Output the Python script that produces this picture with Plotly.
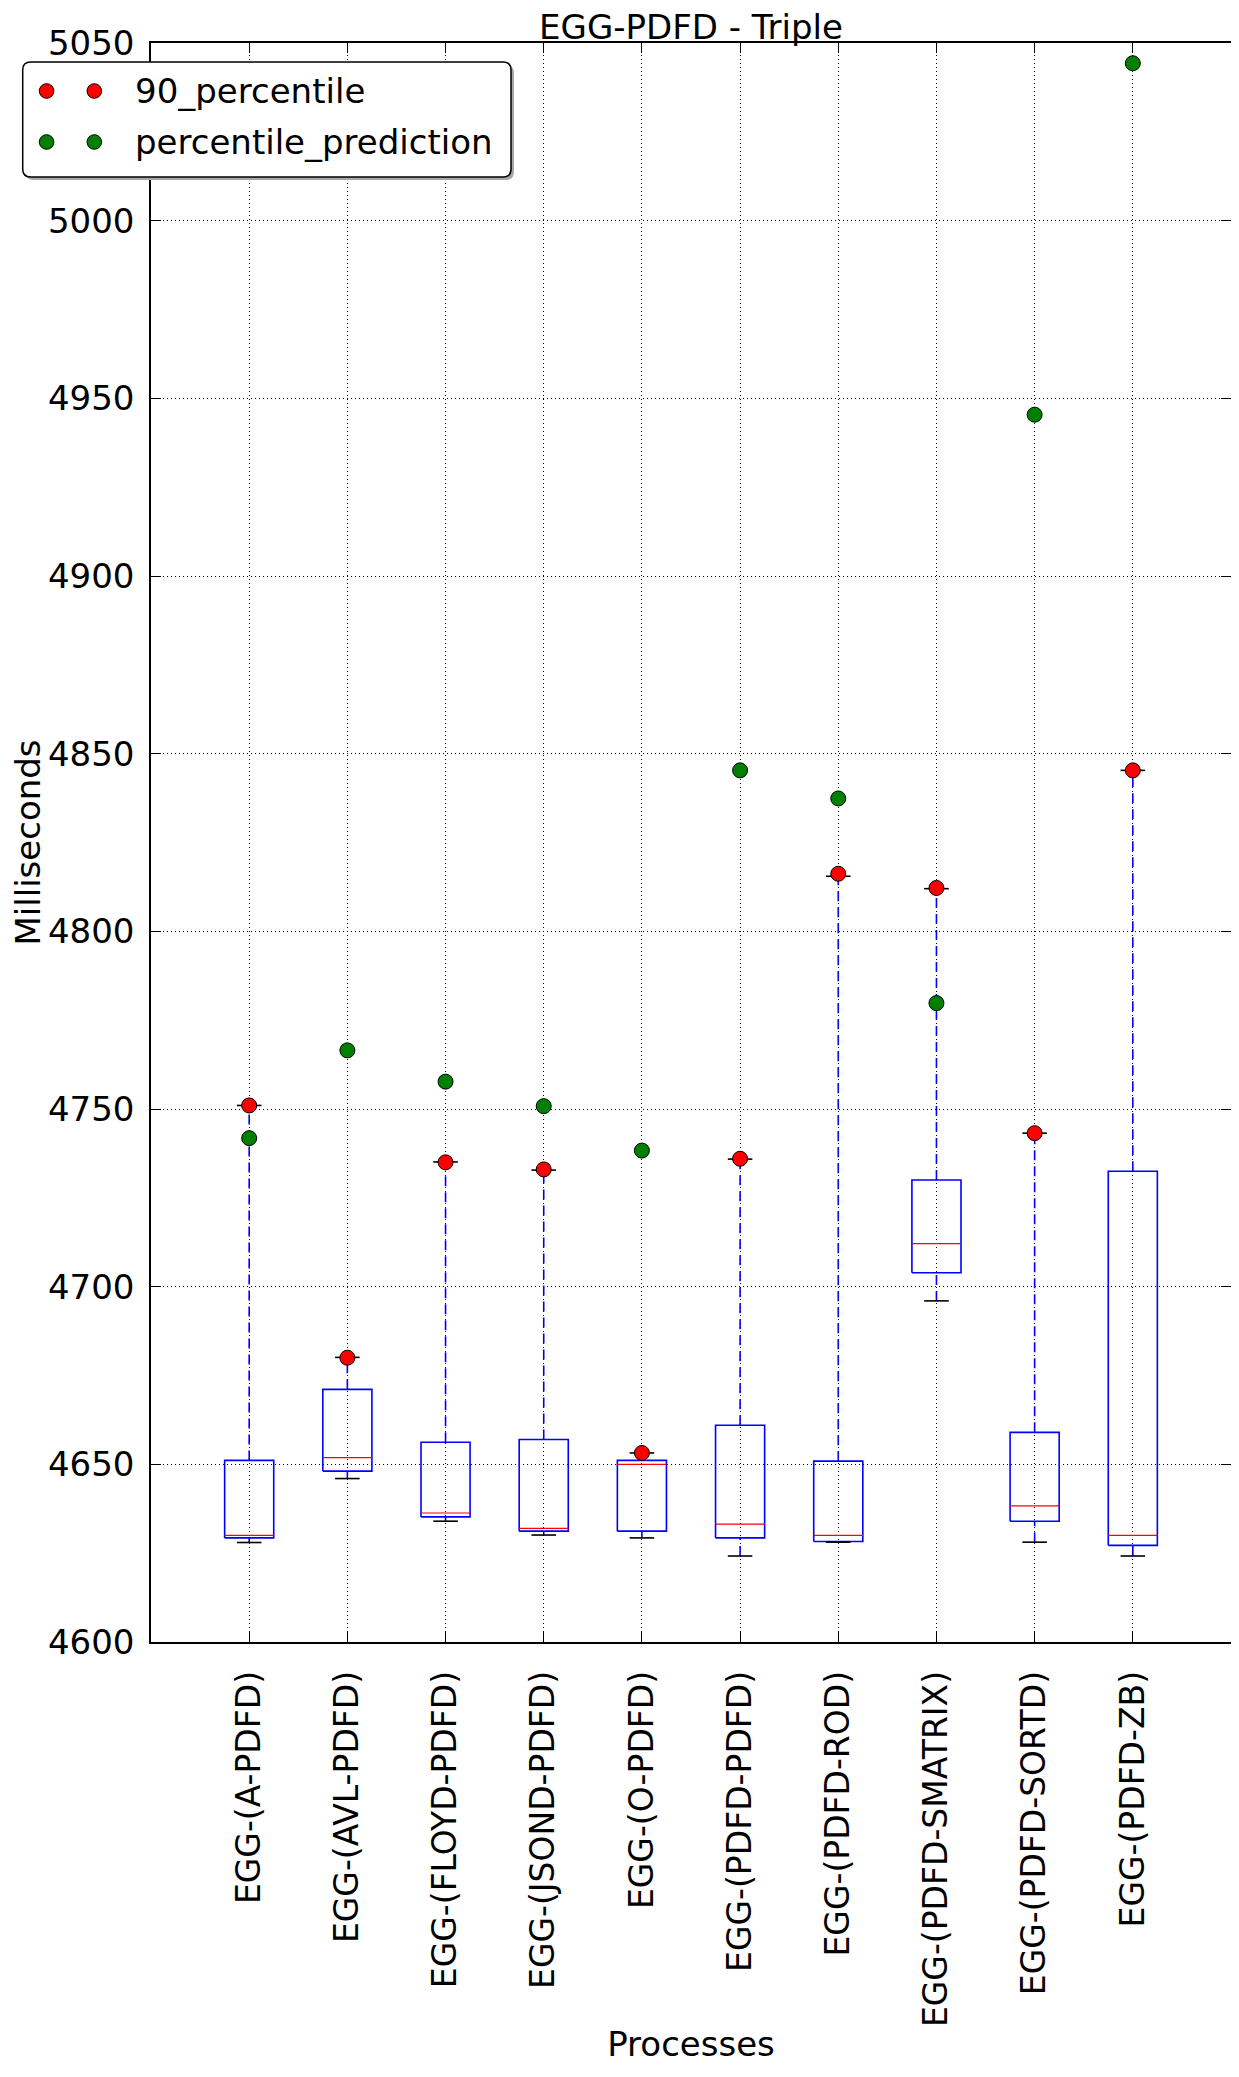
import plotly.graph_objects as go

# ---------------- data ----------------
categories = ["EGG-(A-PDFD)", "EGG-(AVL-PDFD)", "EGG-(FLOYD-PDFD)", "EGG-(JSOND-PDFD)",
              "EGG-(O-PDFD)", "EGG-(PDFD-PDFD)", "EGG-(PDFD-ROD)", "EGG-(PDFD-SMATRIX)",
              "EGG-(PDFD-SORTD)", "EGG-(PDFD-ZB)"]
whisker_low = [4628.0, 4646.0, 4634.0, 4630.1, 4629.3, 4624.2, 4628.1, 4696.0, 4628.1, 4624.2]
q1 = [4629.3, 4648.1, 4635.2, 4631.2, 4631.2, 4629.3, 4628.3, 4703.9, 4634.0, 4627.2]
median = [4630.0, 4651.9, 4636.3, 4632.0, 4650.0, 4633.2, 4630.0, 4712.1, 4638.3, 4630.0]
q3 = [4651.1, 4671.1, 4656.2, 4657.0, 4651.1, 4661.0, 4650.9, 4730.0, 4659.0, 4732.5]
whisker_high = [4751.0, 4680.1, 4735.1, 4732.8, 4653.2, 4735.9, 4815.5, 4812.0, 4743.2, 4845.3]
percentile_90 = [4751.0, 4680.0, 4735.0, 4733.0, 4653.2, 4736.0, 4816.2, 4812.2, 4743.2, 4845.3]
percentile_prediction = [4741.8, 4766.5, 4757.7, 4750.8, 4738.3, 4845.3, 4837.4, 4779.8, 4945.4, 5044.3]
y_ticks = [4600, 4650, 4700, 4750, 4800, 4850, 4900, 4950, 5000, 5050]

# ---------------- layout constants (figure pixels; page adds 8px body margin) ----------------
W, H = 1239, 2077
L, R, T, B = 137, 16, 35, 443
PW, PH = W - L - R, H - T - B
FONT = "DejaVu Sans"
BW = 0.25   # half box width
CW = 0.125  # half cap width


def px2x(px):
    return (px - L) / PW


def px2y(py):
    return 1 - (py - T) / PH


xs = list(range(1, len(categories) + 1))

box_x, box_y = [], []
med_x, med_y = [], []
wh_x, wh_y = [], []
cap_x, cap_y = [], []
for i, x in enumerate(xs):
    box_x += [x - BW, x + BW, x + BW, x - BW, x - BW, None]
    box_y += [q1[i], q1[i], q3[i], q3[i], q1[i], None]
    med_x += [x - BW, x + BW, None]
    med_y += [median[i], median[i], None]
    wh_x += [x, x, None, x, x, None]
    wh_y += [q3[i], whisker_high[i], None, whisker_low[i], q1[i], None]
    cap_x += [x - CW, x + CW, None, x - CW, x + CW, None]
    cap_y += [whisker_low[i], whisker_low[i], None, whisker_high[i], whisker_high[i], None]

fig = go.Figure()
fig.add_trace(go.Scatter(x=wh_x, y=wh_y, mode="lines", showlegend=False, hoverinfo="skip",
                         line=dict(color="#0000ff", width=1.6, dash="10px,6px")))
fig.add_trace(go.Scatter(x=box_x, y=box_y, mode="lines", showlegend=False, hoverinfo="skip",
                         line=dict(color="#0000ff", width=1.6)))
fig.add_trace(go.Scatter(x=med_x, y=med_y, mode="lines", showlegend=False, hoverinfo="skip",
                         line=dict(color="#ff0000", width=1.2)))
fig.add_trace(go.Scatter(x=cap_x, y=cap_y, mode="lines", showlegend=False, hoverinfo="skip",
                         line=dict(color="#000000", width=1.6)))
fig.add_trace(go.Scatter(x=xs, y=percentile_90, mode="markers", name="90_percentile",
                         showlegend=False,
                         marker=dict(color="#ff0000", size=15, line=dict(color="black", width=1))))
fig.add_trace(go.Scatter(x=xs, y=percentile_prediction, mode="markers",
                         name="percentile_prediction", showlegend=False,
                         marker=dict(color="#008000", size=15, line=dict(color="black", width=1))))

axis_common = dict(showline=True, linecolor="black", linewidth=1.5, mirror="allticks",
                   ticks="inside", ticklen=10, tickwidth=1.2, tickcolor="black",
                   showgrid=True, gridcolor="black", gridwidth=1, griddash="1px,3px",
                   zeroline=False)

fig.update_xaxes(range=[0, 11], tickmode="array", tickvals=xs, ticktext=categories,
                 tickangle=-90, ticklabelstandoff=14,
                 tickfont=dict(family=FONT, size=33, color="black"),
                 title=dict(text="Processes", font=dict(family=FONT, size=34, color="black"),
                            standoff=6),
                 **axis_common)
fig.update_yaxes(range=[4600, 5050], tickmode="array", tickvals=y_ticks,
                 ticktext=[str(v) for v in y_ticks], ticklabelstandoff=8,
                 tickfont=dict(family=FONT, size=34, color="black"),
                 title=dict(text="Milliseconds", font=dict(family=FONT, size=34, color="black"),
                            standoff=4),
                 **axis_common)


# ---------------- custom legend (matplotlib style, two markers per entry) ----------------
def rounded_rect(x0, y0, x1, y1, r):
    rx, ry = r / PW, r / PH
    a0, a1 = px2x(x0), px2x(x1)
    b0, b1 = px2y(y0), px2y(y1)  # b0 top, b1 bottom
    return (f"M {a0 + rx},{b0} L {a1 - rx},{b0} Q {a1},{b0} {a1},{b0 - ry} "
            f"L {a1},{b1 + ry} Q {a1},{b1} {a1 - rx},{b1} L {a0 + rx},{b1} "
            f"Q {a0},{b1} {a0},{b1 + ry} L {a0},{b0 - ry} Q {a0},{b0} {a0 + rx},{b0} Z")


shapes = [
    dict(type="path", xref="paper", yref="paper", path=rounded_rect(11, 57, 502, 172, 8),
         fillcolor="#a8a8a8", line=dict(width=0), layer="above"),
    dict(type="path", xref="paper", yref="paper", path=rounded_rect(8, 54, 499, 169, 8),
         fillcolor="white", line=dict(color="black", width=1.5), layer="above"),
]
legend_rows = [("90_percentile", "#ff0000", 83), ("percentile_prediction", "#008000", 134)]
annotations = []
for label, col, py in legend_rows:
    for mx in (32, 80):
        shapes.append(dict(type="circle", xref="paper", yref="paper", xsizemode="pixel",
                           ysizemode="pixel", xanchor=px2x(mx), yanchor=px2y(py),
                           x0=-7.3, x1=7.3, y0=-7.3, y1=7.3, fillcolor=col,
                           line=dict(color="black", width=1), layer="above"))
    annotations.append(dict(text=label, xref="paper", yref="paper", x=px2x(119), y=px2y(py),
                            xanchor="left", yanchor="middle", showarrow=False,
                            font=dict(family=FONT, size=34, color="black")))

fig.update_layout(
    width=W, height=H,
    margin=dict(l=L, r=R, t=T, b=B),
    paper_bgcolor="white", plot_bgcolor="white",
    font=dict(family=FONT, color="black"),
    title=dict(text="EGG-PDFD - Triple", xref="paper", x=0.5, xanchor="center",
               yref="container", y=1 - 19 / H, yanchor="middle",
               font=dict(family=FONT, size=34, color="black")),
    shapes=shapes, annotations=annotations,
    showlegend=False,
)

fig.write_html("out.html")
